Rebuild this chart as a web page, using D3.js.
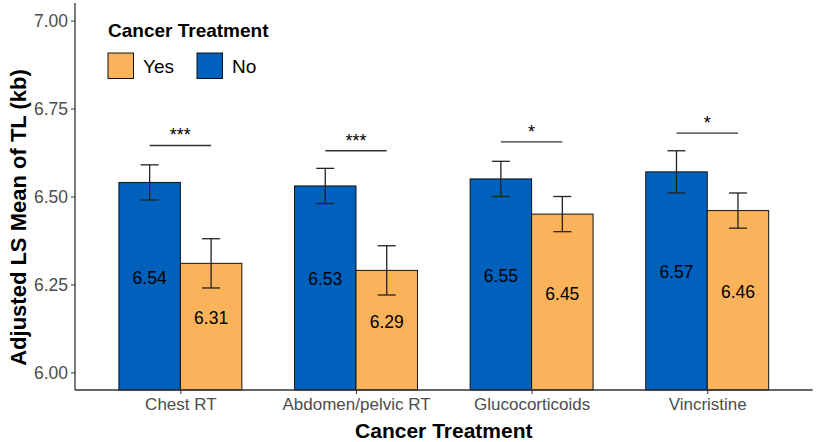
<!DOCTYPE html>
<html>
<head>
<meta charset="utf-8">
<script src="https://cdn.jsdelivr.net/npm/d3@7"></script>
<style>
  html, body { margin: 0; padding: 0; background: #fff; }
  svg { display: block; font-family: "Liberation Sans", Arial, Helvetica, sans-serif; }
</style>
</head>
<body>
<svg id="chart" width="816" height="442"></svg>
<script>
const categories = ["Chest RT", "Abdomen/pelvic RT", "Glucocorticoids", "Vincristine"];
const groups = ["No", "Yes"];
const legendOrder = ["Yes", "No"];
const noValues = [6.54, 6.53, 6.55, 6.57];
const noLower = [6.49, 6.48, 6.50, 6.51];
const noUpper = [6.59, 6.58, 6.60, 6.63];
const yesValues = [6.31, 6.29, 6.45, 6.46];
const yesLower = [6.24, 6.22, 6.40, 6.41];
const yesUpper = [6.38, 6.36, 6.50, 6.51];
const sigLevel = [6.645, 6.63, 6.655, 6.68];
const sigLabels = ["***", "***", "*", "*"];
const yTicks = [6.00, 6.25, 6.50, 6.75, 7.00];

const colors = { Yes: "#FBB35B", No: "#0061BD" };

const rows = [];
categories.forEach((c, i) => {
  rows.push({ cat: c, group: "No", value: noValues[i], lo: noLower[i], hi: noUpper[i] });
  rows.push({ cat: c, group: "Yes", value: yesValues[i], lo: yesLower[i], hi: yesUpper[i] });
});

const svg = d3.select("#chart");
const mLeft = 75, mRight = 812.6, mTop = 3, mBottom = 390;

const x = d3.scalePoint().domain(categories).range([mLeft, mRight]).padding(0.6);
const step = x.step();
const xg = d3.scaleBand().domain(groups).range([-0.35 * step, 0.35 * step]).padding(0);
const y = d3.scaleLinear().domain([5.95, 7.05]).range([mBottom, mTop]);

// Bars
svg.append("g").selectAll("rect").data(rows).join("rect")
  .attr("x", d => x(d.cat) + xg(d.group))
  .attr("y", d => y(d.value))
  .attr("width", xg.bandwidth())
  .attr("height", d => y(5.95) - y(d.value))
  .attr("fill", d => colors[d.group])
  .attr("stroke", "#111")
  .attr("stroke-width", 1);

// Error bars
const capHalf = 9;
const eb = svg.append("g").attr("stroke", "#222").attr("stroke-width", 1.3).attr("fill", "none");
rows.forEach(d => {
  const cx = x(d.cat) + xg(d.group) + xg.bandwidth() / 2;
  eb.append("line").attr("x1", cx).attr("x2", cx).attr("y1", y(d.lo)).attr("y2", y(d.hi));
  eb.append("line").attr("x1", cx - capHalf).attr("x2", cx + capHalf).attr("y1", y(d.lo)).attr("y2", y(d.lo));
  eb.append("line").attr("x1", cx - capHalf).attr("x2", cx + capHalf).attr("y1", y(d.hi)).attr("y2", y(d.hi));
});

// Value labels
svg.append("g").selectAll("text").data(rows).join("text")
  .attr("x", d => x(d.cat) + xg(d.group) + xg.bandwidth() / 2)
  .attr("y", d => y((d.value + 6) / 2))
  .attr("dy", "0.36em")
  .attr("text-anchor", "middle")
  .attr("font-size", 17.5)
  .attr("fill", "#000")
  .text(d => d.value.toFixed(2));

// Significance lines
const sg = svg.append("g");
categories.forEach((c, i) => {
  const x1 = x(c) + xg("No") + xg.bandwidth() / 2;
  const x2 = x(c) + xg("Yes") + xg.bandwidth() / 2;
  sg.append("line").attr("x1", x1).attr("x2", x2)
    .attr("y1", y(sigLevel[i])).attr("y2", y(sigLevel[i]))
    .attr("stroke", "#333").attr("stroke-width", 1.3);
  sg.append("text").attr("x", (x1 + x2) / 2).attr("y", y(sigLevel[i]) - 4)
    .attr("text-anchor", "middle").attr("font-size", 18).attr("fill", "#000")
    .text(sigLabels[i]);
});

// Axes
const yAxis = d3.axisLeft(y).tickValues(yTicks).tickFormat(d3.format(".2f")).tickSize(4).tickPadding(3);
const gy = svg.append("g").attr("transform", `translate(${mLeft},0)`).call(yAxis);
gy.select(".domain").attr("d", `M0,${mTop}V${mBottom}`).attr("stroke", "#333").attr("stroke-width", 1.3);
gy.selectAll(".tick line").attr("stroke", "#333");
gy.selectAll(".tick text").attr("font-size", 17.5).attr("fill", "#4D4D4D").attr("font-family", null);

const xAxis = d3.axisBottom(x).tickSize(4).tickPadding(4);
const gx = svg.append("g").attr("transform", `translate(0,${mBottom})`).call(xAxis);
gx.select(".domain").attr("d", `M${mLeft},0H${mRight}`).attr("stroke", "#333").attr("stroke-width", 1.3);
gx.selectAll(".tick line").attr("stroke", "#333");
gx.selectAll(".tick text").attr("font-size", 17).attr("fill", "#4D4D4D").attr("font-family", null);

// Axis titles
svg.append("text")
  .attr("transform", `translate(26,${(mTop + mBottom) / 2 + 21}) rotate(-90)`)
  .attr("text-anchor", "middle").attr("font-weight", "bold").attr("font-size", 22)
  .attr("fill", "#000").text("Adjusted LS Mean of TL (kb)");
svg.append("text")
  .attr("x", (mLeft + mRight) / 2).attr("y", 438)
  .attr("text-anchor", "middle").attr("font-weight", "bold").attr("font-size", 21)
  .attr("fill", "#000").text("Cancer Treatment");

// Legend
const lg = svg.append("g");
lg.append("text").attr("x", 108).attr("y", 37).attr("font-weight", "bold")
  .attr("font-size", 19).attr("fill", "#000").text("Cancer Treatment");
const legX = [108, 197];
legendOrder.forEach((g, i) => {
  lg.append("rect").attr("x", legX[i]).attr("y", 53).attr("width", 25.5).attr("height", 25.5)
    .attr("fill", colors[g]).attr("stroke", "#111").attr("stroke-width", 1);
  lg.append("text").attr("x", legX[i] + 35).attr("y", 73).attr("font-size", 19)
    .attr("fill", "#000").text(g);
});
</script>
</body>
</html>
